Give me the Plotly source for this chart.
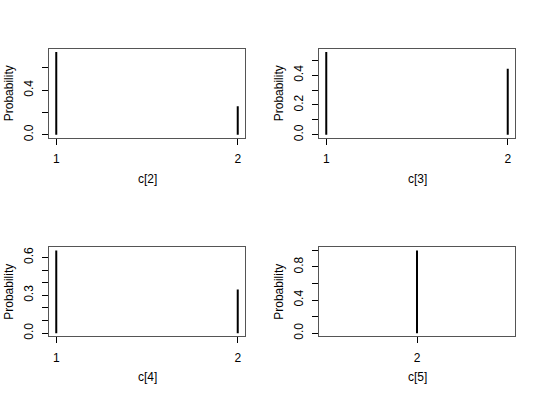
import plotly.graph_objects as go

# Data
panel_titles = ["c[2]", "c[3]", "c[4]", "c[5]"]
values_c2 = [1, 2]
probs_c2 = [0.744, 0.256]
values_c3 = [1, 2]
probs_c3 = [0.557, 0.443]
values_c4 = [1, 2]
probs_c4 = [0.655, 0.345]
values_c5 = [2]
probs_c5 = [1.0]

y_ticks = [
    [0.0, 0.2, 0.4, 0.6],
    [0.0, 0.1, 0.2, 0.3, 0.4, 0.5],
    [0.0, 0.1, 0.2, 0.3, 0.4, 0.5, 0.6],
    [0.0, 0.2, 0.4, 0.6, 0.8, 1.0],
]
y_labels = [
    ["0.0", "", "0.4", ""],
    ["0.0", "", "0.2", "", "0.4", ""],
    ["0.0", "", "", "0.3", "", "", "0.6"],
    ["0.0", "", "0.4", "", "0.8", ""],
]
x_ticks = [[1, 2], [1, 2], [1, 2], [2]]

panels = [
    (values_c2, probs_c2),
    (values_c3, probs_c3),
    (values_c4, probs_c4),
    (values_c5, probs_c5),
]

W, H = 540, 400
# plot box pixel positions (left, right, top, bottom)
boxes = [
    (49, 245, 49, 139),
    (319, 515, 49, 139),
    (49, 245, 249, 339),
    (319, 515, 249, 339),
]

fig = go.Figure()
font = dict(family="Liberation Sans, Arial, Helvetica, sans-serif", size=12, color="black")

for i, ((xs, ps), (l, r, t, b)) in enumerate(zip(panels, boxes)):
    n = i + 1
    xa = "x" if n == 1 else f"x{n}"
    ya = "y" if n == 1 else f"y{n}"
    lx, ly = [], []
    for xv, pv in zip(xs, ps):
        lx += [xv, xv, None]
        ly += [0, pv, None]
    fig.add_trace(go.Scatter(x=lx, y=ly, mode="lines",
                             line=dict(color="black", width=2),
                             xaxis=xa, yaxis=ya, showlegend=False,
                             hoverinfo="skip"))
    # R-style ranges with 4% expansion
    xmin, xmax = min(xs), max(xs)
    if xmin == xmax:
        xmin, xmax = xmin - 0.4 * abs(xmin), xmax + 0.4 * abs(xmax)
    dx = (xmax - xmin) * 0.04
    ymax = max(ps)
    dy = ymax * 0.04
    axkey_x = "xaxis" if n == 1 else f"xaxis{n}"
    axkey_y = "yaxis" if n == 1 else f"yaxis{n}"
    fig.update_layout(**{
        axkey_x: dict(domain=[l / W, r / W], anchor=ya,
                      range=[xmin - dx, xmax + dx],
                      tickvals=x_ticks[i], ticktext=[str(v) for v in x_ticks[i]],
                      ticks="outside", ticklen=6, tickcolor="black", tickwidth=1,
                      showline=True, linecolor="#555", linewidth=1, mirror=True,
                      showgrid=False, zeroline=False, tickfont=font,
                      ticklabelstandoff=4),
        axkey_y: dict(domain=[1 - b / H, 1 - t / H], anchor=xa,
                      range=[-dy, ymax + dy],
                      tickvals=y_ticks[i], ticktext=y_labels[i],
                      ticks="outside", ticklen=6, tickcolor="black", tickwidth=1,
                      tickangle=-90,
                      showline=True, linecolor="#555", linewidth=1, mirror=True,
                      showgrid=False, zeroline=False, tickfont=font,
                      ticklabelstandoff=4),
    })
    # axis titles
    fig.add_annotation(text=panel_titles[i], xref="paper", yref="paper",
                       x=((l + r) / 2) / W, y=1 - 180 / H if n <= 2 else 1 - 380 / H,
                       showarrow=False, font=font, xanchor="center", yanchor="middle")
    fig.add_annotation(text="Probability", xref="paper", yref="paper",
                       x=(l - 40) / W, y=1 - ((t + b) / 2) / H, textangle=-90,
                       showarrow=False, font=font, xanchor="center", yanchor="middle")

fig.update_layout(width=W, height=H, margin=dict(l=0, r=0, t=0, b=0),
                  paper_bgcolor="white", plot_bgcolor="white", font=font)
fig.write_html("out.html")
